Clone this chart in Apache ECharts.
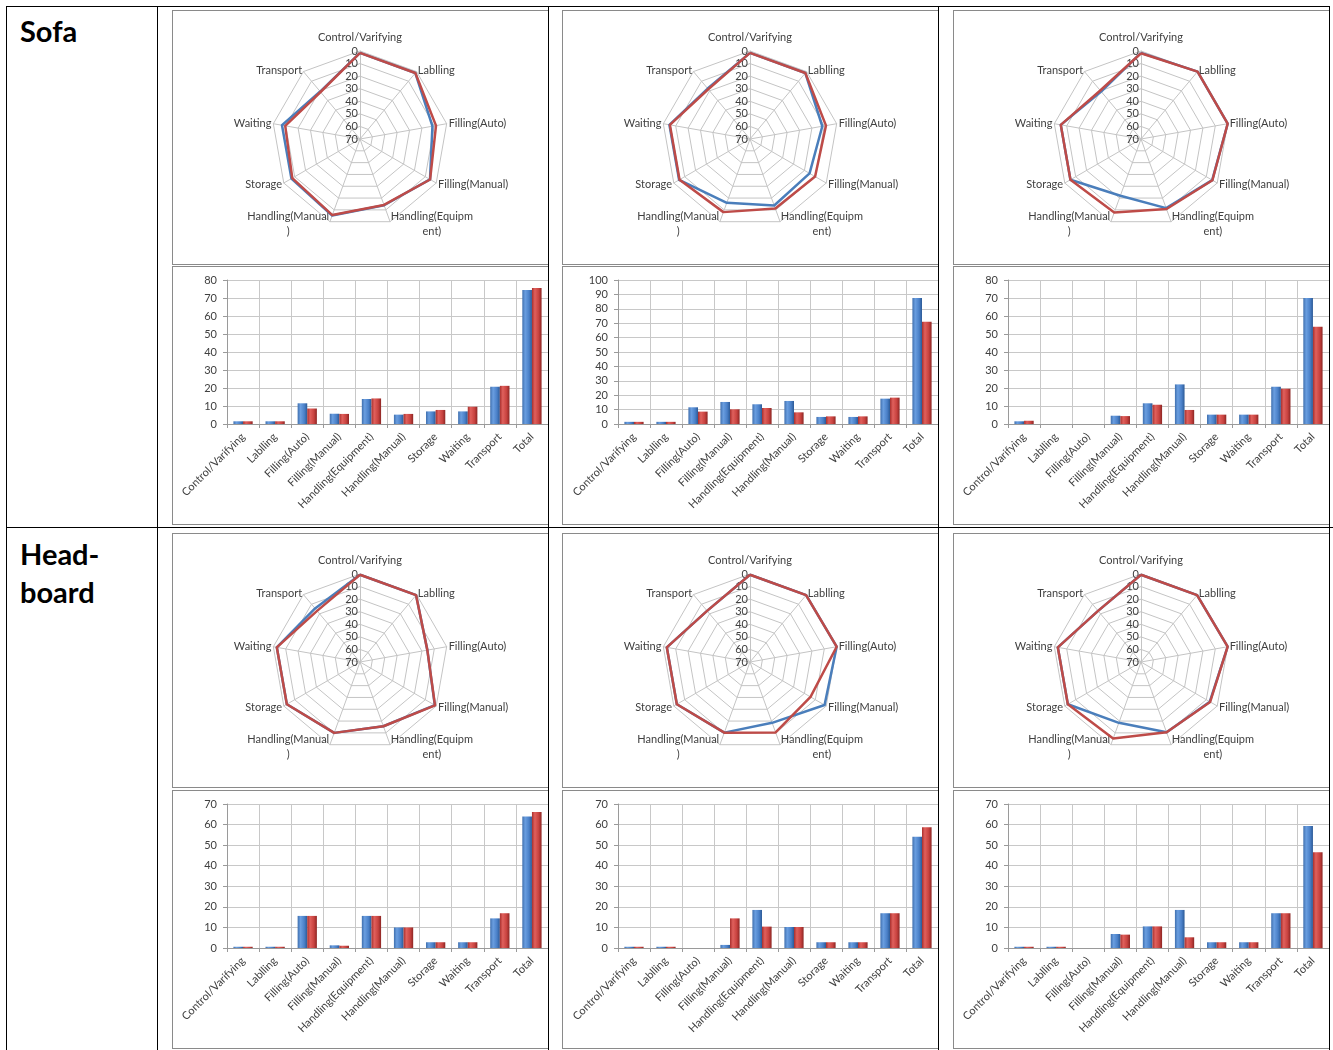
<!DOCTYPE html>
<html><head><meta charset="utf-8">
<script src="https://cdn.jsdelivr.net/npm/echarts@6/dist/echarts.min.js"></script>
<style>
html,body{margin:0;padding:0;background:#fff;width:1333px;height:1050px;overflow:hidden;}
.ln{position:absolute;background:#000;}
.panel{position:absolute;overflow:hidden;}
.frame{position:absolute;box-sizing:border-box;border-left:1px solid #8a8a8a;border-top:1px solid #8a8a8a;border-bottom:1px solid #8a8a8a;pointer-events:none;}
.cell{position:absolute;font-family:Lato,'Open Sans',sans-serif;font-weight:bold;font-size:29px;line-height:38px;color:#000;}
</style></head><body>
<div class="ln" style="left:6px;top:6px;width:1324px;height:1px"></div>
<div class="ln" style="left:6px;top:527px;width:1327px;height:1px"></div>
<div class="ln" style="left:6px;top:6px;width:1px;height:1044px"></div>
<div class="ln" style="left:157px;top:6px;width:1px;height:1044px"></div>
<div class="ln" style="left:548px;top:6px;width:1px;height:1044px"></div>
<div class="ln" style="left:938px;top:6px;width:1px;height:1044px"></div>
<div class="ln" style="left:1329px;top:6px;width:1px;height:1044px"></div>
<div class="cell" style="left:20px;top:12px">Sofa</div>
<div class="cell" style="left:20px;top:535px">Head-<br>board</div>
<div id="root"></div>
<script>
// ---- data ----
const categories = ['Control/Varifying','Lablling','Filling(Auto)','Filling(Manual)','Handling(Equipment)','Handling(Manual)','Storage','Waiting','Transport','Total'];
const radarAxisNames = ['Control/Varifying','Lablling','Filling(Auto)','Filling(Manual)','Handling(Equipm\nent)','Handling(Manual\n)','Storage','Waiting','Transport'];
const radarMax = 70;
const barAxisMax = [80, 100, 80, 70, 70, 70];

const sofa1Blue = [1.5, 1.5, 11.5, 5.7, 13.9, 5.2, 7.0, 7.0, 20.7, 74.4];
const sofa1Red  = [1.5, 1.5, 8.6, 5.6, 14.2, 5.6, 7.8, 9.6, 21.2, 75.6];
const sofa2Blue = [1.5, 1.5, 11.6, 15.3, 13.7, 16.0, 4.9, 4.9, 17.6, 87.5];
const sofa2Red  = [1.5, 1.5, 8.6, 10.2, 11.1, 8.1, 5.3, 5.3, 18.3, 71.0];
const sofa3Blue = [1.5, 0, 0, 4.6, 11.5, 22.0, 5.2, 5.2, 20.7, 70.0];
const sofa3Red  = [1.8, 0, 0, 4.4, 10.7, 7.8, 5.2, 5.2, 19.6, 54.0];
const head1Blue = [0.6, 0.6, 15.6, 1.3, 15.6, 10.0, 2.8, 2.8, 14.4, 63.9];
const head1Red  = [0.6, 0.6, 15.6, 1.1, 15.6, 10.0, 2.8, 2.8, 16.9, 66.1];
const head2Blue = [0.6, 0.6, 0, 1.5, 18.5, 10.2, 2.8, 2.8, 16.9, 54.1];
const head2Red  = [0.6, 0.6, 0, 14.4, 10.4, 10.2, 2.8, 2.8, 16.9, 58.7];
const head3Blue = [0.6, 0.6, 0, 6.8, 10.5, 18.5, 2.8, 2.8, 16.9, 59.3];
const head3Red  = [0.6, 0.6, 0, 6.5, 10.5, 5.2, 2.8, 2.8, 16.9, 46.5];

const blueSets = [sofa1Blue, sofa2Blue, sofa3Blue, head1Blue, head2Blue, head3Blue];
const redSets  = [sofa1Red, sofa2Red, sofa3Red, head1Red, head2Red, head3Red];

// ---- layout ----
const colLeft = [172, 562, 953];
const gridLeft = [55, 56, 55];
const rowRadarTop = [10, 533];
const rowBarTop = [266, 790];
const panelW = 376, radarH = 255, barH = 259;

const FONT = 'Lato';
const TXT = '#404040';
const BLUE = '#4a7ebb', RED = '#be4b48';

function grad(c0, c1, c2, c3) {
  return new echarts.graphic.LinearGradient(0, 0, 1, 0, [
    {offset: 0, color: c0}, {offset: 0.3, color: c1}, {offset: 0.7, color: c2}, {offset: 1, color: c3}]);
}

function radarOption(blue, red) {
  // ECharts radar runs counter-clockwise; reorder to get the clockwise Excel layout
  const order = [0, 8, 7, 6, 5, 4, 3, 2, 1];
  return {
    animation: false,
    textStyle: {fontFamily: FONT},
    radar: {
      center: [188, 129], radius: 88, startAngle: 90, splitNumber: 7, shape: 'polygon', nameGap: 2,
      axisName: {
        color: TXT, fontSize: 11, fontFamily: FONT,
        formatter: n => n.split('\n').map(s => '{c|' + s + '}').join('\n'),
        rich: {c: {align: 'center', color: TXT, fontSize: 11, fontFamily: FONT, lineHeight: 15}}
      },
      splitLine: {lineStyle: {color: '#c4c4c4', width: 1}},
      splitArea: {show: false},
      axisLine: {lineStyle: {color: '#c4c4c4', width: 1}},
      axisTick: {show: false},
      axisLabel: {show: false},
      indicator: order.map((k, i) => ({
        name: radarAxisNames[k], min: 0, max: radarMax,
        nameGap: i === 0 ? 6 : 2,
        axisLabel: i === 0 ? {show: true, color: TXT, fontSize: 11, fontFamily: FONT, margin: 2,
          formatter: v => String(radarMax - v)} : {show: false}
      }))
    },
    series: [{
      type: 'radar', symbol: 'none', silent: true,
      data: [
        {name: 'Series1', value: order.map(k => radarMax - blue[k]), lineStyle: {color: BLUE, width: 2.5}, itemStyle: {color: BLUE}},
        {name: 'Series2', value: order.map(k => radarMax - red[k]), lineStyle: {color: RED, width: 2.5}, itemStyle: {color: RED}}
      ]
    }]
  };
}

function barOption(blue, red, ymax, gl) {
  return {
    animation: false,
    textStyle: {fontFamily: FONT},
    grid: {left: gl, top: 14, width: 326, height: 144},
    xAxis: {
      type: 'category', data: categories, boundaryGap: true,
      axisLine: {lineStyle: {color: '#9a9a9a'}},
      axisTick: {show: true, interval: 0, length: 4, lineStyle: {color: '#9a9a9a'}},
      splitLine: {show: true, interval: 0, lineStyle: {color: '#c8c8c8'}},
      axisLabel: {interval: 0, rotate: 45, fontSize: 11, fontFamily: FONT, color: TXT, margin: 11}
    },
    yAxis: {
      type: 'value', min: 0, max: ymax, interval: 10,
      axisLine: {show: true, lineStyle: {color: '#9a9a9a'}},
      axisTick: {show: true, length: 4, lineStyle: {color: '#9a9a9a'}},
      splitLine: {lineStyle: {color: '#c8c8c8'}},
      axisLabel: {fontSize: 11, fontFamily: FONT, color: TXT, margin: 10}
    },
    series: [
      {type: 'bar', data: blue, barGap: '0%', barCategoryGap: '40%',
       itemStyle: {color: grad('#3f6fae', '#6a9ee0', '#4a80c8', '#2c5a96')}},
      {type: 'bar', data: red, barGap: '0%', barCategoryGap: '40%',
       itemStyle: {color: grad('#a8302e', '#e0605c', '#c8423f', '#8c2624')}}
    ]
  };
}

const root = document.getElementById('root');
function makePanel(left, top, w, h) {
  const d = document.createElement('div');
  d.className = 'panel';
  d.style.cssText = `left:${left}px;top:${top}px;width:${w}px;height:${h}px`;
  root.appendChild(d);
  const f = document.createElement('div');
  f.className = 'frame';
  f.style.cssText = `left:${left}px;top:${top}px;width:${w}px;height:${h}px`;
  root.appendChild(f);
  return d;
}

for (let r = 0; r < 2; r++) {
  for (let c = 0; c < 3; c++) {
    const idx = r * 3 + c;
    const rd = makePanel(colLeft[c], rowRadarTop[r], panelW, radarH);
    echarts.init(rd, null, {renderer: 'canvas'}).setOption(radarOption(blueSets[idx], redSets[idx]));
    const bd = makePanel(colLeft[c], rowBarTop[r], panelW, barH);
    echarts.init(bd, null, {renderer: 'canvas'}).setOption(barOption(blueSets[idx], redSets[idx], barAxisMax[idx], gridLeft[c]));
  }
}
</script>
</body></html>
